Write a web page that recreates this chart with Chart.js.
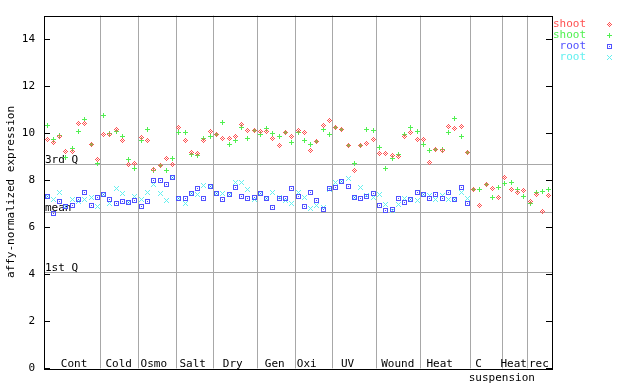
<!DOCTYPE html>
<html><head><meta charset="utf-8">
<script src="https://cdn.jsdelivr.net/npm/chart.js@4/dist/chart.umd.min.js"></script>
<style>html,body{margin:0;padding:0;background:#fff}#wrap{width:640px;height:384px}</style>
</head><body><div id="wrap"><canvas id="c" width="640" height="384"></canvas></div>
<script>
// ---------- data ----------
const groupNames = ['Cont','Cold','Osmo','Salt','Dry','Gen','Oxi','UV','Wound','Heat','C','Heat','rec'];
const groupSizes = [9,6,6,6,7,6,6,7,7,8,5,4,4];
const seriesNames = ['shoot','shoot','root','root'];
const yTickValues = [0,2,4,6,8,10,12,14];
const refLabels = ['3rd Q','mean','1st Q'];
const refValues = [8.70, 6.63, 4.09];

const shootRep1 = [
  9.74,9.60,9.84,9.22,9.22,10.42,10.42,9.53,8.90,
  9.95,9.95,10.16,9.70,8.65,8.73,
  9.81,9.67,8.45,8.62,8.94,8.69,
  10.24,9.67,9.18,9.15,9.67,10.09,
  9.95,9.79,9.77,9.84,10.38,10.12,10.12,
  10.09,10.07,9.79,9.46,10.02,9.84,
  10.12,10.02,9.25,9.63,10.31,10.52,
  10.26,10.16,9.49,8.41,9.46,9.56,9.72,
  9.15,9.15,9.04,9.00,9.84,10.02,9.72,
  9.72,8.75,9.31,9.25,10.27,10.19,10.30,9.17,
  7.59,6.92,7.80,7.63,7.25,
  8.10,7.59,7.47,7.56,
  7.09,7.38,6.68,7.34
];
const shootRep2 = [
  10.31,9.73,9.91,8.97,9.35,10.09,10.59,9.53,8.73,
  10.77,10.00,10.09,9.84,8.90,8.52,
  9.67,10.16,8.40,8.62,8.40,8.94,
  10.02,10.02,9.11,9.07,9.79,9.88,
  9.93,10.47,9.53,9.70,10.24,9.79,10.12,
  9.93,10.21,10.00,9.84,10.02,9.60,
  10.02,9.67,9.50,9.63,10.16,9.95,
  10.26,10.16,9.49,8.73,9.49,10.16,10.12,
  9.39,8.48,8.94,9.11,9.93,10.26,10.09,
  9.53,9.27,9.31,9.31,10.02,10.63,9.84,9.17,
  7.59,7.59,7.80,7.25,7.68,
  7.85,7.90,7.59,7.30,
  7.00,7.47,7.52,7.59
];
const rootRep1 = [
  7.31,6.58,7.10,6.89,6.93,7.17,7.46,6.93,7.25,
  7.38,7.17,7.00,7.10,7.04,7.14,
  6.89,7.10,7.98,7.98,7.80,8.13,
  7.24,7.21,7.45,7.63,7.21,7.75,
  7.45,7.17,7.38,7.68,7.32,7.21,7.28,
  7.45,7.24,6.83,7.24,7.24,7.63,
  7.32,6.89,7.47,7.14,6.75,7.63,
  7.68,7.94,7.75,7.28,7.21,7.32,7.42,
  6.93,6.72,6.75,7.21,7.04,7.17,7.47,
  7.38,7.21,7.38,7.24,7.47,7.18,7.68,7.00,
  null,null,null,null,null,
  null,null,null,null,
  null,null,null,null
];
const rootRep2 = [
  7.31,7.17,7.46,6.89,7.17,7.10,7.17,7.25,6.89,
  7.38,7.00,7.66,7.42,7.04,7.32,
  7.17,7.49,7.80,7.42,7.14,8.13,
  7.24,7.03,7.45,7.38,7.77,7.75,
  7.45,7.42,7.38,7.92,7.92,7.59,7.18,
  7.45,7.24,7.49,7.28,7.14,7.00,
  7.49,7.28,6.79,6.93,6.83,7.59,
  7.92,7.94,8.06,7.28,7.68,7.35,7.28,
  7.38,6.96,6.72,6.96,7.24,7.17,7.14,
  7.38,7.35,7.17,7.35,7.18,7.18,7.47,7.24,
  null,null,null,null,null,
  null,null,null,null,
  null,null,null,null
];

// ---------- styles ----------
const FONT = 'DejaVu Sans Mono';
const COLORS = ['rgb(255,80,80)','rgb(80,240,80)','rgb(80,80,255)','rgb(100,240,240)'];
const PATTERNS = [
  ['..#..','.#.#.','#.#.#','.#.#.','..#..'],
  ['..#..','..#..','#####','..#..','..#..'],
  ['#####','#...#','#.#.#','#...#','#####'],
  ['#...#','.#.#.','..#..','.#.#.','#...#']
];
function makeMarker(color, pattern){
  const c = document.createElement('canvas');
  c.width = 5; c.height = 5;
  const g = c.getContext('2d');
  g.fillStyle = color;
  pattern.forEach((row, y) => { for (let x = 0; x < row.length; x++) if (row[x] === '#') g.fillRect(x, y, 1, 1); });
  return c;
}
const markers = COLORS.map((c, i) => makeMarker(c, PATTERNS[i]));
const labelAnchors = [4.3, 11.4, 17.0, 23.2, 29.6, 36.3, 41.4, 47.9, 55.9, 62.6, 68.8, 74.4, 78.4];
const suspensionAnchor = 72.5;

function toPoints(arr){
  const out = [];
  arr.forEach((v, i) => { if (v !== null) out.push({x: i, y: v}); });
  return out;
}
const nSamples = groupSizes.reduce((a, b) => a + b, 0);

const decor = {
  id: 'decor',
  beforeDatasetsDraw(chart){
    const {ctx, chartArea: a, scales: {x, y}} = chart;
    ctx.save();
    ctx.lineWidth = 1;
    // group separators
    ctx.strokeStyle = '#a8a8a8';
    let acc = 0;
    for (let g = 0; g < groupSizes.length - 1; g++){
      acc += groupSizes[g];
      const px = Math.round(x.getPixelForValue(acc - 0.5)) + 0.5;
      ctx.beginPath(); ctx.moveTo(px, a.top); ctx.lineTo(px, a.bottom); ctx.stroke();
    }
    // reference lines
    refValues.forEach(v => {
      const py = Math.round(y.getPixelForValue(v)) + 0.5;
      ctx.beginPath(); ctx.moveTo(a.left, py); ctx.lineTo(a.right, py); ctx.stroke();
    });
    // frame
    ctx.strokeStyle = '#000';
    ctx.strokeRect(Math.round(a.left) + 0.5, Math.round(a.top) + 0.5, Math.round(a.right - a.left), Math.round(a.bottom - a.top));
    // inward ticks
    yTickValues.forEach(v => {
      const py = Math.round(y.getPixelForValue(v)) + 0.5;
      ctx.beginPath();
      ctx.moveTo(a.left, py); ctx.lineTo(a.left + 6, py);
      ctx.moveTo(a.right, py); ctx.lineTo(a.right - 6, py);
      ctx.stroke();
    });
    // texts
    ctx.fillStyle = '#000';
    ctx.font = '11px "' + FONT + '"';
    ctx.textAlign = 'left';
    ctx.textBaseline = 'alphabetic';
    refValues.forEach((v, i) => {
      const py = Math.round(y.getPixelForValue(v));
      ctx.fillText(refLabels[i], a.left + 1, py - 1);
    });
    ctx.textAlign = 'center';
    ctx.textBaseline = 'middle';
    groupNames.forEach((n, i) => {
      ctx.fillText(n, x.getPixelForValue(labelAnchors[i]), 364);
    });
    ctx.fillText('suspension', x.getPixelForValue(suspensionAnchor), 378);
    ctx.restore();
    chart.ctx.imageSmoothingEnabled = false;
  },
  afterDraw(chart){
    const {ctx} = chart;
    ctx.save();
    ctx.imageSmoothingEnabled = false;
    ctx.font = '11px "' + FONT + '"';
    ctx.textAlign = 'right';
    ctx.textBaseline = 'middle';
    const rows = [24, 35, 46, 57];
    seriesNames.forEach((n, i) => {
      ctx.fillStyle = COLORS[i];
      ctx.fillText(n, 586, rows[i]);
      ctx.drawImage(markers[i], 607, rows[i] - 2);
    });
    ctx.restore();
  }
};

new Chart(document.getElementById('c'), {
  type: 'scatter',
  data: {
    datasets: [shootRep1, shootRep2, rootRep1, rootRep2].map((arr, i) => ({
      label: seriesNames[i],
      data: toPoints(arr),
      pointStyle: markers[i],
      pointRadius: 3,
      pointHoverRadius: 3,
      showLine: false
    }))
  },
  options: {
    responsive: false,
    animation: false,
    devicePixelRatio: 1,
    layout: {padding: {top: 13, bottom: 15, left: 0, right: 88}},
    plugins: {legend: {display: false}, tooltip: {enabled: false}},
    events: [],
    scales: {
      x: {type: 'linear', min: -0.5, max: nSamples - 0.5, display: false},
      y: {
        type: 'linear', min: 0, max: 15, position: 'left',
        afterFit(s){ s.width = 44; },
        afterBuildTicks(s){ s.ticks = yTickValues.map(v => ({value: v})); },
        grid: {display: false, drawTicks: false},
        border: {display: false},
        ticks: {padding: 9, color: '#000', font: {family: FONT, size: 11}},
        title: {display: true, text: 'affy-normalized expression', color: '#000',
                font: {family: FONT, size: 11}, padding: {top: 5, bottom: 0}}
      }
    }
  },
  plugins: [decor]
});
</script></body></html>
